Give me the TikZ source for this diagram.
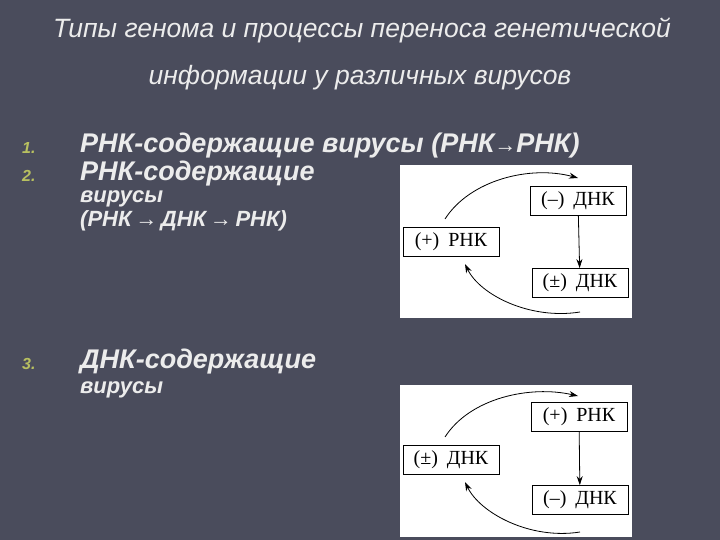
\documentclass[tikz,border=0pt]{standalone}
\usepackage{fontspec}
\setmainfont{Liberation Sans}
\newfontfamily\dgfont{Liberation Serif}
\usetikzlibrary{arrows.meta}
\definecolor{bg}{HTML}{4A4C5C}
\definecolor{tx}{HTML}{ECECEC}
\definecolor{num}{HTML}{B8C060}
\tikzset{
 ttl/.style={text=tx,font=\itshape\fontsize{26.5}{26}\selectfont,anchor=center},
 itm/.style={text=tx,font=\bfseries\itshape\fontsize{27}{27}\selectfont,anchor=west,inner sep=0},
 itms/.style={text=tx,font=\bfseries\itshape\fontsize{22}{22}\selectfont,anchor=west,inner sep=0},
 nm/.style={text=num,font=\bfseries\itshape\fontsize{16}{16}\selectfont,anchor=west,inner sep=0},
 panel/.style={fill=white,draw=none},
 bx/.style={draw=black,line width=0.8pt,fill=white,font=\dgfont\fontsize{20}{20}\selectfont,minimum width=96pt,minimum height=29pt,inner sep=0},
 ar/.style={-{Stealth[length=9pt,width=6pt]},line width=0.8pt}
}
\begin{document}
\begin{tikzpicture}[x=1pt,y=-1pt]
\fill[bg] (0,0) rectangle (720,540);
\useasboundingbox (0,0) rectangle (720,540);
\node[ttl] (t1) at (362,30) {Типы генома и процессы переноса генетической};
\node[ttl] (t2) at (360,78) {информации у различных вирусов};
\node[nm] (n1) at (22,148) {1.};
\node[itm] (i1) at (80,146) {РНК-содержащие вирусы (РНК{\fontsize{22}{22}\selectfont→}РНК)};
\node[nm] (n2) at (22,176) {2.};
\node[itm] (i2) at (80,174) {РНК-содержащие};
\node[itms] (i2b) at (80,199) {вирусы};
\node[itms] (i2c) at (80,221) {(РНК\,→\,ДНК\,→\,РНК)};
\node[nm] (n3) at (22,364) {3.};
\node[itm] (i3) at (80,362) {ДНК-содержащие};
\node[itms] (i3b) at (80,390) {вирусы};
% panel 1
\fill[panel] (400,165) rectangle (632,318);
\node[bx] (a1) at (578,201) {(–)\;\,ДНК};
\node[bx] (a2) at (451,242) {(+)\;\,РНК};
\node[bx] (a3) at (580,283) {(±)\;\,ДНК};
\coordinate (a1t) at (578,178);
\coordinate (a3b) at (580,312);
\draw[ar] (445,219) .. controls (470,180) and (530,165) .. (a1t);
\draw[ar] (a1) -- (a3);
\draw[ar] (a3b) .. controls (530,320) and (480,295) .. (465,264);
% panel 2
\fill[panel] (400,385) rectangle (632,537);
\node[bx] (b1) at (579,417) {(+)\;\,РНК};
\node[bx] (b2) at (451,460) {(±)\;\,ДНК};
\node[bx] (b3) at (580,500) {(–)\;\,ДНК};
\coordinate (b1t) at (578,396);
\coordinate (b3b) at (580,532);
\draw[ar] (445,437) .. controls (470,398) and (530,385) .. (b1t);
\draw[ar] (b1) -- (b3);
\draw[ar] (b3b) .. controls (530,540) and (480,513) .. (465,482);
\end{tikzpicture}
\end{document}
